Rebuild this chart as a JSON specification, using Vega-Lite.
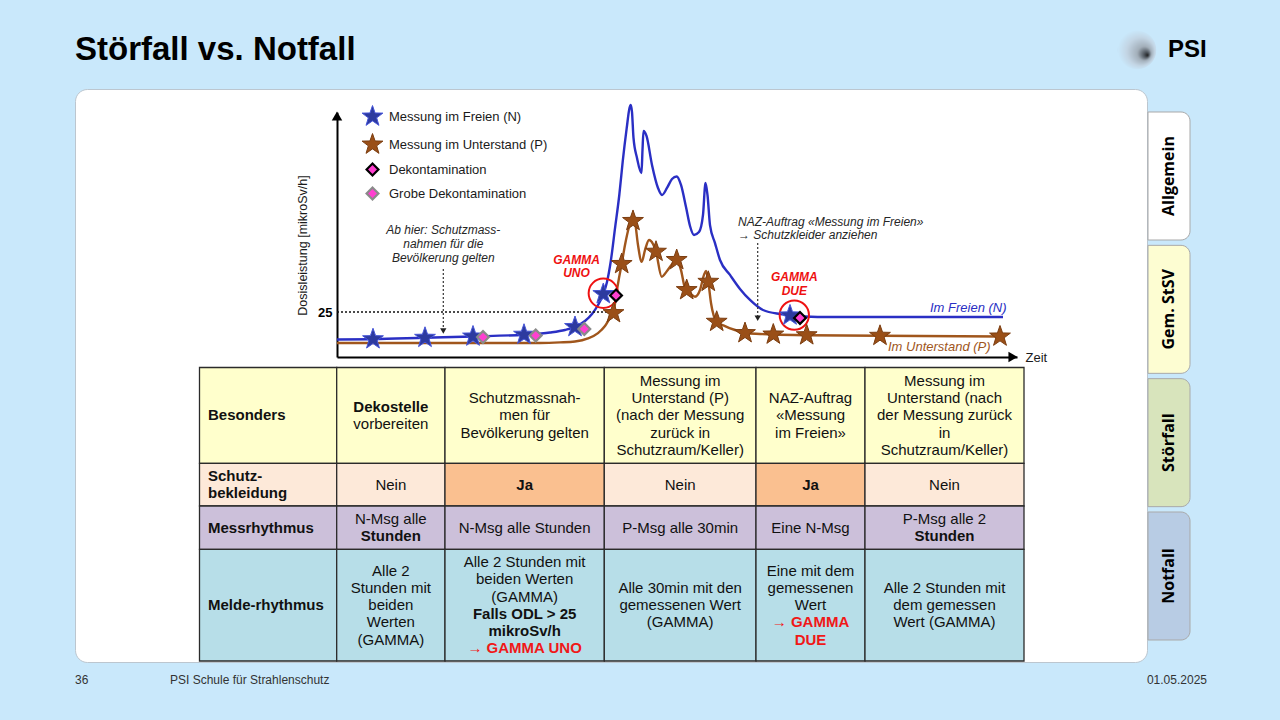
{
"$schema": "https://vega.github.io/schema/vega-lite/v6.json",
"width": 1072, "height": 573,
"autosize": {"type": "none"},
"padding": {"left": 75, "top": 89, "right": 133, "bottom": 58},
"background": "#c9e8fb",
"config": {"view": {"fill": "#ffffff", "stroke": "#bcc6cf", "strokeWidth": 1, "cornerRadius": 12}, "text": {"font": "Liberation Sans"}},
"datasets": {
 "curves": [
  {"series":"N","t":0,"d":9.7},{"series":"N","t":0.72,"d":9.9},{"series":"N","t":1.76,"d":10.7},{"series":"N","t":2.72,"d":11.4},{"series":"N","t":3.74,"d":12.4},{"series":"N","t":4.26,"d":13.6},{"series":"N","t":4.56,"d":15},{"series":"N","t":4.76,"d":16.7},{"series":"N","t":4.96,"d":20},{"series":"N","t":5.1,"d":23.9},{"series":"N","t":5.22,"d":28.9},{"series":"N","t":5.326,"d":35},{"series":"N","t":5.4,"d":41.7},{"series":"N","t":5.474,"d":52.9},{"series":"N","t":5.56,"d":71.5},{"series":"N","t":5.646,"d":90},{"series":"N","t":5.714,"d":108.5},{"series":"N","t":5.794,"d":127.1},{"series":"N","t":5.85,"d":138.3},{"series":"N","t":5.874,"d":140},{"series":"N","t":5.9,"d":136.1},{"series":"N","t":5.93,"d":121.7},{"series":"N","t":6.0,"d":110.6},{"series":"N","t":6.09,"d":102.2},{"series":"N","t":6.11,"d":115},{"series":"N","t":6.13,"d":125.6},{"series":"N","t":6.19,"d":122.8},{"series":"N","t":6.3,"d":106.7},{"series":"N","t":6.42,"d":93.9},{"series":"N","t":6.5,"d":90},{"series":"N","t":6.6,"d":93.9},{"series":"N","t":6.7,"d":98.9},{"series":"N","t":6.794,"d":100.3},{"series":"N","t":6.88,"d":95.6},{"series":"N","t":6.98,"d":83.3},{"series":"N","t":7.06,"d":72.8},{"series":"N","t":7.14,"d":67.8},{"series":"N","t":7.24,"d":69.4},{"series":"N","t":7.32,"d":78.9},{"series":"N","t":7.37,"d":96.7},{"series":"N","t":7.41,"d":90},{"series":"N","t":7.46,"d":73.3},{"series":"N","t":7.56,"d":63.3},{"series":"N","t":7.66,"d":53.9},{"series":"N","t":7.86,"d":45.6},{"series":"N","t":8.06,"d":37.8},{"series":"N","t":8.26,"d":31.7},{"series":"N","t":8.52,"d":26.1},{"series":"N","t":8.86,"d":23.9},{"series":"N","t":9.14,"d":23.1},{"series":"N","t":9.36,"d":22.5},{"series":"N","t":9.86,"d":22.2},{"series":"N","t":13.32,"d":22.2},
  {"series":"P","t":0,"d":7.8},{"series":"P","t":2.26,"d":7.8},{"series":"P","t":4.06,"d":7.8},{"series":"P","t":4.46,"d":8.1},{"series":"P","t":4.76,"d":8.6},{"series":"P","t":5.02,"d":10.3},{"series":"P","t":5.22,"d":13.3},{"series":"P","t":5.36,"d":17.2},{"series":"P","t":5.46,"d":21.7},{"series":"P","t":5.53,"d":24.4},{"series":"P","t":5.58,"d":33.9},{"series":"P","t":5.64,"d":43.9},{"series":"P","t":5.694,"d":51.7},{"series":"P","t":5.76,"d":62.2},{"series":"P","t":5.84,"d":72.2},{"series":"P","t":5.914,"d":77.8},{"series":"P","t":5.96,"d":75},{"series":"P","t":6.02,"d":62.2},{"series":"P","t":6.094,"d":52.9},{"series":"P","t":6.16,"d":59.4},{"series":"P","t":6.24,"d":65},{"series":"P","t":6.32,"d":62.8},{"series":"P","t":6.38,"d":58.5},{"series":"P","t":6.494,"d":44.6},{"series":"P","t":6.6,"d":47.8},{"series":"P","t":6.72,"d":52.2},{"series":"P","t":6.794,"d":53.9},{"series":"P","t":6.88,"d":48.3},{"series":"P","t":6.96,"d":38.3},{"series":"P","t":7.06,"d":35.6},{"series":"P","t":7.16,"d":33.5},{"series":"P","t":7.26,"d":37.2},{"series":"P","t":7.34,"d":45.6},{"series":"P","t":7.38,"d":47.8},{"series":"P","t":7.426,"d":41.8},{"series":"P","t":7.48,"d":30},{"series":"P","t":7.594,"d":19.6},{"series":"P","t":7.76,"d":17.2},{"series":"P","t":7.96,"d":15},{"series":"P","t":8.16,"d":13.3},{"series":"P","t":8.46,"d":12.8},{"series":"P","t":8.72,"d":12.5},{"series":"P","t":9.394,"d":12.1},{"series":"P","t":10.86,"d":11.8},{"series":"P","t":13.26,"d":11.4}
 ],
 "markers": [
  {"kind":"Messung im Freien (N)","t":0.72,"d":9.9},{"kind":"Messung im Freien (N)","t":1.76,"d":10.7},{"kind":"Messung im Freien (N)","t":2.72,"d":11.4},{"kind":"Messung im Freien (N)","t":3.74,"d":12.4},{"kind":"Messung im Freien (N)","t":4.76,"d":16.7},{"kind":"Messung im Freien (N)","t":5.326,"d":35},{"kind":"Messung im Freien (N)","t":9.06,"d":23.1},
  {"kind":"Messung im Unterstand (P)","t":5.53,"d":24.4},{"kind":"Messung im Unterstand (P)","t":5.694,"d":51.7},{"kind":"Messung im Unterstand (P)","t":5.92,"d":75.6},{"kind":"Messung im Unterstand (P)","t":6.38,"d":58.5},{"kind":"Messung im Unterstand (P)","t":6.794,"d":53.9},{"kind":"Messung im Unterstand (P)","t":6.994,"d":37.2},{"kind":"Messung im Unterstand (P)","t":7.426,"d":41.8},{"kind":"Messung im Unterstand (P)","t":7.594,"d":19.6},{"kind":"Messung im Unterstand (P)","t":8.16,"d":13.3},{"kind":"Messung im Unterstand (P)","t":8.726,"d":12.5},{"kind":"Messung im Unterstand (P)","t":9.394,"d":12.1},{"kind":"Messung im Unterstand (P)","t":10.86,"d":11.8},{"kind":"Messung im Unterstand (P)","t":13.26,"d":11.4},
  {"kind":"Dekontamination","t":5.58,"d":34.2},{"kind":"Dekontamination","t":9.26,"d":21.7},
  {"kind":"Grobe Dekontamination","t":2.92,"d":11.1},{"kind":"Grobe Dekontamination","t":3.974,"d":11.9},{"kind":"Grobe Dekontamination","t":4.946,"d":15.6}
 ],
 "gamma": [
  {"name":"GAMMA UNO","t":5.326,"d":35.4,"tLabel":4.79,"dLabel":53.9,"lines":["GAMMA","UNO"]},
  {"name":"GAMMA DUE","t":9.146,"d":23.3,"tLabel":9.146,"dLabel":44.4,"lines":["GAMMA","DUE"]}
 ],
 "annots": [
  {"id":"schutz","t":2.126,"dTop":48.9,"dBottom":14.4,"tText":2.126,"dText":70.6,"lines":["Ab hier: Schutzmass-","nahmen für die","Bevölkerung gelten"]},
  {"id":"naz","t":8.414,"dTop":63.3,"dBottom":21.5,"tText":8.02,"dText":75.2,"lines":["NAZ-Auftrag «Messung im Freien»","→ Schutzkleider anziehen"]}
 ],
 "threshold": [{"d":25,"tStart":0,"tEnd":5.4}],
 "axisArrows": [{"dir":"y","t":0,"d":133.9},{"dir":"x","t":13.52,"d":0}],
 "seriesLabels": [
  {"series":"N","t":11.86,"d":27.4,"label":"Im Freien (N)"},
  {"series":"P","t":11.02,"d":5.4,"label":"Im Unterstand (P)"}
 ],
 "cells": [
  {"r0":0,"r1":1,"c0":0,"c1":1,"kind":"head"},{"r0":0,"r1":1,"c0":1,"c1":2,"kind":"head"},{"r0":0,"r1":1,"c0":2,"c1":3,"kind":"head"},{"r0":0,"r1":1,"c0":3,"c1":4,"kind":"head"},{"r0":0,"r1":1,"c0":4,"c1":5,"kind":"head"},{"r0":0,"r1":1,"c0":5,"c1":6,"kind":"head"},
  {"r0":1,"r1":2,"c0":0,"c1":1,"kind":"prot"},{"r0":1,"r1":2,"c0":1,"c1":2,"kind":"prot"},{"r0":1,"r1":2,"c0":2,"c1":3,"kind":"protYes"},{"r0":1,"r1":2,"c0":3,"c1":4,"kind":"prot"},{"r0":1,"r1":2,"c0":4,"c1":5,"kind":"protYes"},{"r0":1,"r1":2,"c0":5,"c1":6,"kind":"prot"},
  {"r0":2,"r1":3,"c0":0,"c1":1,"kind":"mess"},{"r0":2,"r1":3,"c0":1,"c1":2,"kind":"mess"},{"r0":2,"r1":3,"c0":2,"c1":3,"kind":"mess"},{"r0":2,"r1":3,"c0":3,"c1":4,"kind":"mess"},{"r0":2,"r1":3,"c0":4,"c1":5,"kind":"mess"},{"r0":2,"r1":3,"c0":5,"c1":6,"kind":"mess"},
  {"r0":3,"r1":4,"c0":0,"c1":1,"kind":"melde"},{"r0":3,"r1":4,"c0":1,"c1":2,"kind":"melde"},{"r0":3,"r1":4,"c0":2,"c1":3,"kind":"melde"},{"r0":3,"r1":4,"c0":3,"c1":4,"kind":"melde"},{"r0":3,"r1":4,"c0":4,"c1":5,"kind":"melde"},{"r0":3,"r1":4,"c0":5,"c1":6,"kind":"melde"}
 ],
 "cellLines": [
  {"r0":0,"c0":0,"ln":0,"style":"bold","text":"Besonders"},
  {"r0":0,"c0":1,"ln":-0.5,"style":"bold","text":"Dekostelle"},
  {"r0":0,"c0":1,"ln":0.5,"style":"normal","text":"vorbereiten"},
  {"r0":0,"c0":2,"ln":-1,"style":"normal","text":"Schutzmassnah-"},
  {"r0":0,"c0":2,"ln":0,"style":"normal","text":"men für"},
  {"r0":0,"c0":2,"ln":1,"style":"normal","text":"Bevölkerung gelten"},
  {"r0":0,"c0":3,"ln":-2,"style":"normal","text":"Messung im"},
  {"r0":0,"c0":3,"ln":-1,"style":"normal","text":"Unterstand (P)"},
  {"r0":0,"c0":3,"ln":0,"style":"normal","text":"(nach der Messung"},
  {"r0":0,"c0":3,"ln":1,"style":"normal","text":"zurück in"},
  {"r0":0,"c0":3,"ln":2,"style":"normal","text":"Schutzraum/Keller)"},
  {"r0":0,"c0":4,"ln":-1,"style":"normal","text":"NAZ-Auftrag"},
  {"r0":0,"c0":4,"ln":0,"style":"normal","text":"«Messung"},
  {"r0":0,"c0":4,"ln":1,"style":"normal","text":"im Freien»"},
  {"r0":0,"c0":5,"ln":-2,"style":"normal","text":"Messung im"},
  {"r0":0,"c0":5,"ln":-1,"style":"normal","text":"Unterstand (nach"},
  {"r0":0,"c0":5,"ln":0,"style":"normal","text":"der Messung zurück"},
  {"r0":0,"c0":5,"ln":1,"style":"normal","text":"in"},
  {"r0":0,"c0":5,"ln":2,"style":"normal","text":"Schutzraum/Keller)"},
  {"r0":1,"c0":0,"ln":-0.5,"style":"bold","text":"Schutz-"},
  {"r0":1,"c0":0,"ln":0.5,"style":"bold","text":"bekleidung"},
  {"r0":1,"c0":1,"ln":0,"style":"normal","text":"Nein"},
  {"r0":1,"c0":2,"ln":0,"style":"bold","text":"Ja"},
  {"r0":1,"c0":3,"ln":0,"style":"normal","text":"Nein"},
  {"r0":1,"c0":4,"ln":0,"style":"bold","text":"Ja"},
  {"r0":1,"c0":5,"ln":0,"style":"normal","text":"Nein"},
  {"r0":2,"c0":0,"ln":0,"style":"bold","text":"Messrhythmus"},
  {"r0":2,"c0":1,"ln":-0.5,"style":"normal","text":"N-Msg alle"},
  {"r0":2,"c0":1,"ln":0.5,"style":"bold","text":"Stunden"},
  {"r0":2,"c0":2,"ln":0,"style":"normal","text":"N-Msg alle Stunden"},
  {"r0":2,"c0":3,"ln":0,"style":"normal","text":"P-Msg alle 30min"},
  {"r0":2,"c0":4,"ln":0,"style":"normal","text":"Eine N-Msg"},
  {"r0":2,"c0":5,"ln":-0.5,"style":"normal","text":"P-Msg alle 2"},
  {"r0":2,"c0":5,"ln":0.5,"style":"bold","text":"Stunden"},
  {"r0":3,"c0":0,"ln":0,"style":"bold","text":"Melde-rhythmus"},
  {"r0":3,"c0":1,"ln":-2,"style":"normal","text":"Alle 2"},
  {"r0":3,"c0":1,"ln":-1,"style":"normal","text":"Stunden mit"},
  {"r0":3,"c0":1,"ln":0,"style":"normal","text":"beiden"},
  {"r0":3,"c0":1,"ln":1,"style":"normal","text":"Werten"},
  {"r0":3,"c0":1,"ln":2,"style":"normal","text":"(GAMMA)"},
  {"r0":3,"c0":2,"ln":-2.5,"style":"normal","text":"Alle 2 Stunden mit"},
  {"r0":3,"c0":2,"ln":-1.5,"style":"normal","text":"beiden Werten"},
  {"r0":3,"c0":2,"ln":-0.5,"style":"normal","text":"(GAMMA)"},
  {"r0":3,"c0":2,"ln":0.5,"style":"bold","text":"Falls ODL > 25"},
  {"r0":3,"c0":2,"ln":1.5,"style":"bold","text":"mikroSv/h"},
  {"r0":3,"c0":2,"ln":2.5,"style":"red","text":"→ GAMMA UNO"},
  {"r0":3,"c0":3,"ln":-1,"style":"normal","text":"Alle 30min mit den"},
  {"r0":3,"c0":3,"ln":0,"style":"normal","text":"gemessenen Wert"},
  {"r0":3,"c0":3,"ln":1,"style":"normal","text":"(GAMMA)"},
  {"r0":3,"c0":4,"ln":-2,"style":"normal","text":"Eine mit dem"},
  {"r0":3,"c0":4,"ln":-1,"style":"normal","text":"gemessenen"},
  {"r0":3,"c0":4,"ln":0,"style":"normal","text":"Wert"},
  {"r0":3,"c0":4,"ln":1,"style":"red","text":"→ GAMMA"},
  {"r0":3,"c0":4,"ln":2,"style":"red","text":"DUE"},
  {"r0":3,"c0":5,"ln":-1,"style":"normal","text":"Alle 2 Stunden mit"},
  {"r0":3,"c0":5,"ln":0,"style":"normal","text":"dem gemessen"},
  {"r0":3,"c0":5,"ln":1,"style":"normal","text":"Wert (GAMMA)"}
 ],
 "tabs": [{"tab":"Allgemein"},{"tab":"Gem. StSV"},{"tab":"Störfall"},{"tab":"Notfall"}],
 "frame": [
  {"i":0,"j":0,"label":"Störfall vs. Notfall"},
  {"i":0,"j":1,"label":"36"},
  {"i":1,"j":1,"label":"PSI Schule für Strahlenschutz"},
  {"i":2,"j":0,"label":"logo"},
  {"i":3,"j":0,"label":"PSI"},
  {"i":4,"j":1,"label":"01.05.2025"}
 ]
},
"layer": [
 {
  "layer": [
   {"data": {"name": "curves"},
    "mark": {"type": "line", "interpolate": "monotone", "strokeWidth": 2.4},
    "encoding": {
     "x": {"field": "t", "type": "quantitative", "scale": {"domain": [0, 13.6], "range": [262, 942], "zero": false, "nice": false},
           "axis": {"orient": "bottom", "offset": -305, "labels": false, "ticks": false, "grid": false, "domain": true, "domainColor": "#000000", "domainWidth": 2, "title": "Zeit", "titleX": 950, "titleY": 0, "titleAlign": "left", "titleBaseline": "middle", "titleAngle": 0, "titleFont": "Liberation Sans", "titleFontSize": 13, "titleFontWeight": "normal", "titleColor": "#1a1a1a"}},
     "y": {"field": "d", "type": "quantitative", "scale": {"domain": [0, 136], "range": [268, 23.2], "zero": false, "nice": false},
           "axis": {"orient": "left", "offset": -262, "values": [25], "ticks": false, "tickSize": 0, "grid": false, "domain": true, "domainColor": "#000000", "domainWidth": 2, "labelFont": "Liberation Sans", "labelFontSize": 13, "labelFontWeight": "bold", "labelColor": "#000000", "labelPadding": 5, "title": "Dosisleistung [mikroSv/h]", "titleX": -35, "titleY": 156, "titleAngle": 270, "titleAlign": "center", "titleBaseline": "middle", "titleFont": "Liberation Sans", "titleFontSize": 12.5, "titleFontWeight": "normal", "titleColor": "#1a1a1a"}},
     "color": {"field": "series", "type": "nominal", "scale": {"domain": ["N", "P"], "range": ["#2a2fc4", "#a0561c"]}, "legend": null}
    }},
   {"data": {"name": "threshold"},
    "mark": {"type": "rule", "strokeDash": [2, 2], "strokeWidth": 1.5, "color": "#111111"},
    "encoding": {"x": {"field": "tStart", "type": "quantitative"}, "x2": {"field": "tEnd"}, "y": {"field": "d", "type": "quantitative"}}},
   {"data": {"name": "annots"},
    "mark": {"type": "rule", "strokeDash": [2, 2], "strokeWidth": 1.2, "color": "#333333"},
    "encoding": {"x": {"field": "t", "type": "quantitative"}, "y": {"field": "dTop", "type": "quantitative"}, "y2": {"field": "dBottom"}}},
   {"data": {"name": "annots"},
    "mark": {"type": "point", "shape": "triangle-down", "filled": true, "size": 40, "color": "#222222", "opacity": 1},
    "encoding": {"x": {"field": "t", "type": "quantitative"}, "y": {"field": "dBottom", "type": "quantitative"}}},
   {"data": {"name": "axisArrows"}, "transform": [{"filter": "datum.dir === 'y'"}],
    "mark": {"type": "point", "shape": "triangle-up", "filled": true, "size": 110, "color": "#000000", "opacity": 1},
    "encoding": {"x": {"field": "t", "type": "quantitative"}, "y": {"field": "d", "type": "quantitative"}}},
   {"data": {"name": "axisArrows"}, "transform": [{"filter": "datum.dir === 'x'"}],
    "mark": {"type": "point", "shape": "triangle-right", "filled": true, "size": 110, "color": "#000000", "opacity": 1},
    "encoding": {"x": {"field": "t", "type": "quantitative"}, "y": {"field": "d", "type": "quantitative"}}},
   {"data": {"name": "gamma"},
    "mark": {"type": "point", "shape": "circle", "filled": false, "size": 860, "color": "#ee1111", "strokeWidth": 2, "opacity": 1},
    "encoding": {"x": {"field": "t", "type": "quantitative"}, "y": {"field": "d", "type": "quantitative"}}},
   {"data": {"name": "markers"},
    "mark": {"type": "point", "filled": true, "opacity": 1},
    "encoding": {
     "x": {"field": "t", "type": "quantitative"}, "y": {"field": "d", "type": "quantitative"},
     "shape": {"field": "kind", "type": "nominal", "scale": {"domain": ["Messung im Freien (N)", "Messung im Unterstand (P)", "Dekontamination", "Grobe Dekontamination"], "range": ["M0,-1L0.235,-0.324L0.951,-0.309L0.38,0.124L0.588,0.809L0,0.4L-0.588,0.809L-0.38,0.124L-0.951,-0.309L-0.235,-0.324Z", "M0,-1L0.235,-0.324L0.951,-0.309L0.38,0.124L0.588,0.809L0,0.4L-0.588,0.809L-0.38,0.124L-0.951,-0.309L-0.235,-0.324Z", "diamond", "diamond"]}},
     "fill": {"field": "kind", "type": "nominal", "scale": {"domain": ["Messung im Freien (N)", "Messung im Unterstand (P)", "Dekontamination", "Grobe Dekontamination"], "range": ["#2d3a9f", "#9a4f17", "#ff3fd0", "#ff3fd0"]},
              "legend": {"orient": "none", "legendX": 286, "legendY": 16, "title": null, "labelFont": "Liberation Sans", "labelFontSize": 13, "labelColor": "#1a1a1a", "rowPadding": 3, "labelOffset": 5, "padding": 0}},
     "stroke": {"field": "kind", "type": "nominal", "scale": {"domain": ["Messung im Freien (N)", "Messung im Unterstand (P)", "Dekontamination", "Grobe Dekontamination"], "range": ["#4655d8", "#7b3d10", "#000000", "#8a8a8a"]}},
     "size": {"field": "kind", "type": "nominal", "scale": {"type": "ordinal", "domain": ["Messung im Freien (N)", "Messung im Unterstand (P)", "Dekontamination", "Grobe Dekontamination"], "range": [480, 480, 140, 140]}},
     "strokeWidth": {"field": "kind", "type": "nominal", "scale": {"type": "ordinal", "domain": ["Messung im Freien (N)", "Messung im Unterstand (P)", "Dekontamination", "Grobe Dekontamination"], "range": [1, 1, 2.2, 2.2]}}
    }},
   {"data": {"name": "gamma"},
    "mark": {"type": "text", "align": "center", "baseline": "middle", "fontSize": 12, "fontWeight": "bold", "fontStyle": "italic", "lineHeight": 13.5, "color": "#ee1111"},
    "encoding": {"x": {"field": "tLabel", "type": "quantitative"}, "y": {"field": "dLabel", "type": "quantitative"}, "text": {"field": "lines", "type": "nominal"}}},
   {"data": {"name": "annots"}, "transform": [{"filter": "datum.id === 'schutz'"}],
    "mark": {"type": "text", "align": "center", "baseline": "middle", "fontSize": 12, "fontStyle": "italic", "lineHeight": 14.2, "color": "#262626"},
    "encoding": {"x": {"field": "tText", "type": "quantitative"}, "y": {"field": "dText", "type": "quantitative"}, "text": {"field": "lines", "type": "nominal"}}},
   {"data": {"name": "annots"}, "transform": [{"filter": "datum.id === 'naz'"}],
    "mark": {"type": "text", "align": "left", "baseline": "middle", "fontSize": 12, "fontStyle": "italic", "lineHeight": 13.3, "color": "#262626"},
    "encoding": {"x": {"field": "tText", "type": "quantitative"}, "y": {"field": "dText", "type": "quantitative"}, "text": {"field": "lines", "type": "nominal"}}},
   {"data": {"name": "seriesLabels"},
    "mark": {"type": "text", "align": "left", "baseline": "middle", "fontSize": 13, "fontStyle": "italic"},
    "encoding": {"x": {"field": "t", "type": "quantitative"}, "y": {"field": "d", "type": "quantitative"}, "text": {"field": "label", "type": "nominal"}, "color": {"field": "series", "type": "nominal", "legend": null}}}
  ]
 },
 {
  "layer": [
   {"data": {"name": "cells"},
    "mark": {"type": "rect", "stroke": "#2b2b2b", "strokeWidth": 1.3},
    "encoding": {
     "x": {"field": "c0", "type": "quantitative", "scale": {"domain": [0, 1, 2, 3, 4, 5, 6], "range": [124.5, 261.7, 370, 529.3, 681, 790, 949], "zero": false, "nice": false}, "axis": null},
     "x2": {"field": "c1"},
     "y": {"field": "r0", "type": "quantitative", "scale": {"domain": [0, 1, 2, 3, 4], "range": [278.5, 374.3, 417, 460.3, 572], "zero": false, "nice": false}, "axis": null},
     "y2": {"field": "r1"},
     "fill": {"field": "kind", "type": "nominal", "scale": {"domain": ["head", "prot", "protYes", "mess", "melde"], "range": ["#ffffcc", "#fde9d9", "#fac090", "#ccc0da", "#b7dee8"]}, "legend": null}
    }},
   {"data": {"name": "cellLines"},
    "encoding": {
     "x": {"field": "c0", "type": "quantitative", "scale": {"domain": [0, 1, 2, 3, 4, 5], "range": [133, 315.85, 449.65, 605.15, 735.5, 869.5], "zero": false, "nice": false}, "axis": null},
     "y": {"field": "r0", "type": "quantitative", "scale": {"domain": [0, 1, 2, 3], "range": [326.4, 395.65, 438.65, 516.15], "zero": false, "nice": false}, "axis": null},
     "text": {"field": "text", "type": "nominal"}
    },
    "layer": [
     {"transform": [{"filter": "datum.c0 == 0"}],
      "mark": {"type": "text", "align": "left", "baseline": "middle", "fontSize": 15, "fontWeight": "bold", "color": "#111111", "dy": {"expr": "datum.ln * 17"}}},
     {"transform": [{"filter": "datum.c0 > 0 && datum.style === 'normal'"}],
      "mark": {"type": "text", "align": "center", "baseline": "middle", "fontSize": 15, "color": "#111111", "dy": {"expr": "datum.ln * 17.2"}}},
     {"transform": [{"filter": "datum.c0 > 0 && datum.style === 'bold'"}],
      "mark": {"type": "text", "align": "center", "baseline": "middle", "fontSize": 15, "fontWeight": "bold", "color": "#111111", "dy": {"expr": "datum.ln * 17.2"}}},
     {"transform": [{"filter": "datum.c0 > 0 && datum.style === 'red'"}],
      "mark": {"type": "text", "align": "center", "baseline": "middle", "fontSize": 15, "fontWeight": "bold", "color": "#f01818", "dy": {"expr": "datum.ln * 17.2"}}}
    ]}
  ],
  "resolve": {"scale": {"x": "independent", "y": "independent"}}
 },
 {
  "data": {"name": "tabs"},
  "encoding": {
   "x": {"datum": "tab", "type": "nominal", "scale": {"domain": ["tab"], "range": [1073, 1115], "paddingInner": 0, "paddingOuter": 0}, "axis": null},
   "y": {"field": "tab", "type": "nominal", "sort": null, "scale": {"domain": ["Allgemein", "Gem. StSV", "Störfall", "Notfall"], "range": [23, 551], "paddingInner": 0.04, "paddingOuter": 0}, "axis": null}
  },
  "layer": [
   {"mark": {"type": "rect", "stroke": "#a9a9a9", "strokeWidth": 1, "cornerRadiusTopRight": 9, "cornerRadiusBottomRight": 9},
    "encoding": {"fill": {"field": "tab", "type": "nominal", "scale": {"domain": ["Allgemein", "Gem. StSV", "Störfall", "Notfall"], "range": ["#ffffff", "#fdfdd2", "#d8e4bc", "#b8cce4"]}, "legend": null}}},
   {"mark": {"type": "text", "angle": 270, "font": "Open Sans", "fontWeight": "bold", "fontSize": 16, "color": "#000000", "baseline": "middle", "align": "center"},
    "encoding": {"text": {"field": "tab", "type": "nominal"}}}
  ]
 },
 {
  "data": {"name": "frame"},
  "encoding": {
   "x": {"field": "i", "type": "quantitative", "scale": {"domain": [0, 1, 2, 3, 4], "range": [0, 95, 1062, 1093, 1132], "zero": false, "nice": false}, "axis": null},
   "y": {"field": "j", "type": "quantitative", "scale": {"domain": [0, 1], "range": [-39, 591], "zero": false, "nice": false}, "axis": null}
  },
  "layer": [
   {"transform": [{"filter": "datum.i == 2"}],
    "mark": {"type": "point", "shape": "circle", "filled": true, "size": 1500, "opacity": 1, "strokeWidth": 0,
             "fill": {"gradient": "radial", "x1": 0.78, "y1": 0.64, "r1": 0, "x2": 0.52, "y2": 0.5, "r2": 0.52,
                      "stops": [{"offset": 0, "color": "#1a1a1a"}, {"offset": 0.12, "color": "#4d545c"}, {"offset": 0.35, "color": "#a3afba"}, {"offset": 0.7, "color": "#c3d5e4"}, {"offset": 1, "color": "#c9e8fb"}]}}},
   {"transform": [{"filter": "datum.i == 0 && datum.j == 0"}],
    "mark": {"type": "text", "align": "left", "baseline": "middle", "fontSize": 33, "fontWeight": "bold", "color": "#000000"},
    "encoding": {"text": {"field": "label", "type": "nominal"}}},
   {"transform": [{"filter": "datum.i == 3"}],
    "mark": {"type": "text", "align": "left", "baseline": "middle", "fontSize": 24, "fontWeight": "bold", "color": "#000000"},
    "encoding": {"text": {"field": "label", "type": "nominal"}}},
   {"transform": [{"filter": "datum.i < 2 && datum.j == 1"}],
    "mark": {"type": "text", "align": "left", "baseline": "middle", "fontSize": 12, "color": "#333333"},
    "encoding": {"text": {"field": "label", "type": "nominal"}}},
   {"transform": [{"filter": "datum.i == 4"}],
    "mark": {"type": "text", "align": "right", "baseline": "middle", "fontSize": 12, "color": "#333333"},
    "encoding": {"text": {"field": "label", "type": "nominal"}}}
  ]
 }
],
"resolve": {"scale": {"x": "independent", "y": "independent", "color": "independent", "fill": "independent", "stroke": "independent", "shape": "independent", "size": "independent", "strokeWidth": "independent"}}
}
